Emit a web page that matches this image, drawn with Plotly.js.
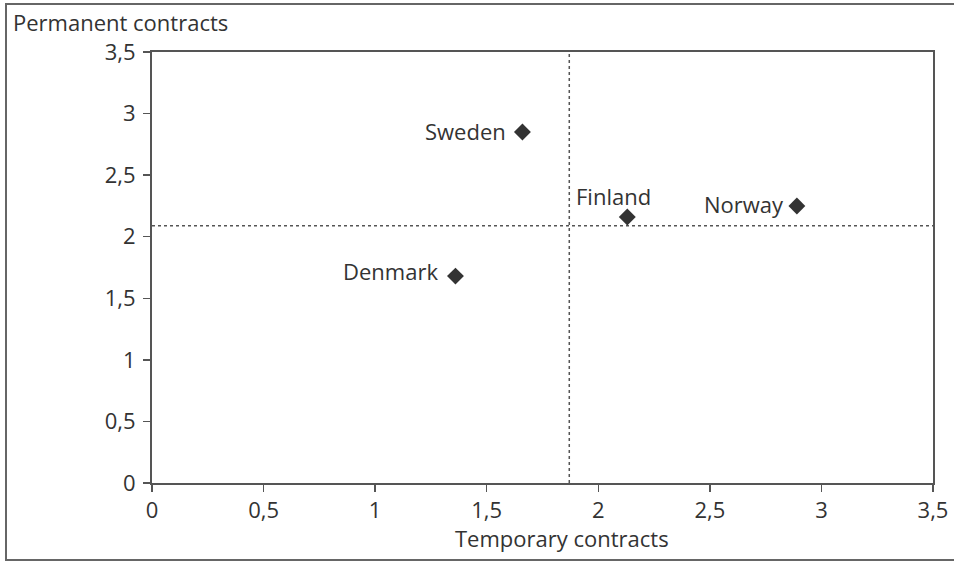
<!DOCTYPE html>
<html>
<head>
<meta charset="utf-8">
<script src="https://cdn.plot.ly/plotly-3.0.1.min.js"></script>
<style>
html,body{margin:0;padding:0;background:#fff;}
#frame{position:absolute;left:5px;top:3px;width:960px;height:558px;border:2px solid #666;box-sizing:border-box;}
#chart{position:absolute;left:0;top:0;width:954px;height:561px;}
</style>
</head>
<body>
<div id="frame"></div>
<div id="chart"></div>
<script>
const countries = ["Sweden", "Finland", "Norway", "Denmark"];
const temporary = [1.66, 2.13, 2.89, 1.36];
const permanent = [2.85, 2.16, 2.25, 1.68];
const refTemporary = 1.87;
const refPermanent = 2.09;
const tickVals = [0, 0.5, 1, 1.5, 2, 2.5, 3, 3.5];
const xTitle = "Temporary contracts";
const yTitle = "Permanent contracts";

const labelPlace = {
  Sweden:  {xanchor: "right",  yanchor: "middle", xshift: -14, yshift: 1},
  Finland: {xanchor: "center", yanchor: "bottom", xshift: -14, yshift: 4},
  Norway:  {xanchor: "right",  yanchor: "middle", xshift: -11, yshift: 2},
  Denmark: {xanchor: "right",  yanchor: "middle", xshift: -15, yshift: 5}
};

const textColor = "#333333";
const axisColor = "#555555";
const font = {family: "Open Sans, Noto Sans, sans-serif", size: 22, color: textColor};

const trace = {
  type: "scatter",
  mode: "markers",
  x: temporary,
  y: permanent,
  text: countries,
  marker: {symbol: "diamond", size: 13, color: "#333333"},
  hoverinfo: "text"
};

const annotations = countries.map((c, i) => Object.assign({
  x: temporary[i], y: permanent[i], xref: "x", yref: "y",
  text: c, showarrow: false, font: font
}, labelPlace[c]));

annotations.push({
  text: xTitle, xref: "paper", yref: "paper", x: 0.525, y: -0.128,
  xanchor: "center", yanchor: "middle", showarrow: false, font: font
});
annotations.push({
  text: yTitle, xref: "paper", yref: "paper", x: -0.181, y: 1.07,
  xanchor: "left", yanchor: "middle", showarrow: false, font: font
});

const axisCommon = {
  range: [0, 3.5],
  tickvals: tickVals,
  ticks: "outside",
  ticklen: 7,
  tickwidth: 1.5,
  tickcolor: axisColor,
  showline: true,
  linecolor: axisColor,
  linewidth: 2,
  mirror: true,
  showgrid: false,
  zeroline: false,
  tickfont: font,
  fixedrange: true
};

const layout = {
  width: 954, height: 561,
  margin: {l: 152, r: 21, t: 52, b: 78},
  paper_bgcolor: "rgba(0,0,0,0)",
  plot_bgcolor: "rgba(0,0,0,0)",
  separators: ",.",
  showlegend: false,
  font: font,
  xaxis: Object.assign({}, axisCommon, {ticklabelstandoff: 0}),
  yaxis: Object.assign({}, axisCommon, {ticklabelstandoff: 3}),
  shapes: [
    {type: "line", xref: "x", yref: "y", x0: refTemporary, x1: refTemporary, y0: 0, y1: 3.5,
     line: {color: axisColor, width: 1.5, dash: "dot"}, layer: "below"},
    {type: "line", xref: "x", yref: "y", x0: 0, x1: 3.5, y0: refPermanent, y1: refPermanent,
     line: {color: axisColor, width: 1.5, dash: "dot"}, layer: "below"}
  ],
  annotations: annotations
};

Plotly.newPlot("chart", [trace], layout, {displayModeBar: false, staticPlot: true});
</script>
</body>
</html>
